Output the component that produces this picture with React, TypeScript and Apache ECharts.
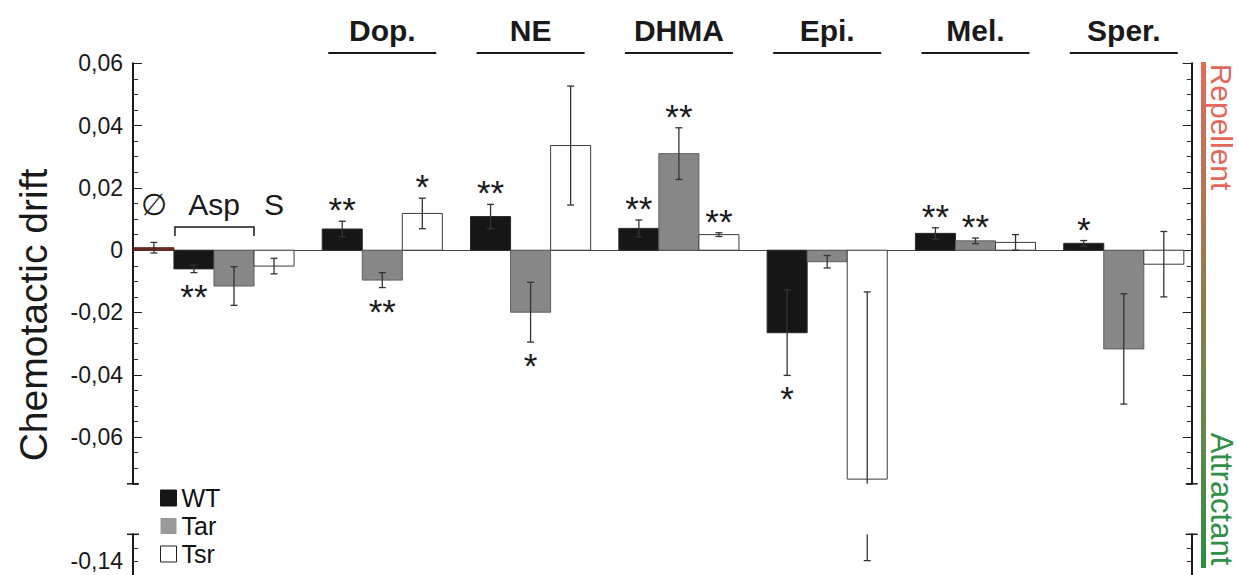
import React, { useEffect, useRef } from 'react';
import * as echarts from 'echarts';

// ---------------- data ----------------
const groups = ['Asp / S', 'Dop.', 'NE', 'DHMA', 'Epi.', 'Mel.', 'Sper.'];
const headers = ['', 'Dop.', 'NE', 'DHMA', 'Epi.', 'Mel.', 'Sper.'];
const group0Labels = ['∅', 'Asp', 'S'];
const legendNames = ['WT', 'Tar', 'Tsr'];

const controlValue = [0.0008];
const controlErr = [0.0017];

const wtValues = [-0.0060, 0.0068, 0.0108, 0.0070, -0.0265, 0.0054, 0.0022];
const wtErr = [0.0012, 0.0025, 0.0039, 0.0027, 0.0137, 0.0018, 0.0009];

const tarValues = [-0.0115, -0.0096, -0.0199, 0.0310, -0.0037, 0.0030, -0.0317];
const tarErr = [0.0062, 0.0024, 0.0096, 0.0083, 0.0020, 0.0009, 0.0177];

const tsrValues = [-0.0051, 0.0118, 0.0336, 0.0050, -0.0735, 0.0025, -0.0045];
const tsrErrHigh = [0.0025, 0.0049, 0.0191, 0.0006, 0.0601, 0.0025, 0.0105];
const tsrErrLow = [0.0025, 0.0049, 0.0191, 0.0006, 0.0662, 0.0025, 0.0105];

const wtSig = ['**', '**', '**', '**', '*', '**', '*'];
const tarSig = ['', '**', '*', '**', '', '**', ''];
const tsrSig = ['', '*', '', '**', '', '', ''];

const yMajorTicks = [0.06, 0.04, 0.02, 0, -0.02, -0.04, -0.06];
const yLowerLabels = [-0.14];

// ---------------- layout / style ----------------
const FONT = "'Liberation Sans', Arial, Helvetica, sans-serif";
const X_MIN = -0.681;
const X_MAX = 6.458;
const BAR_W = 0.27;
const Y_UP_MIN = -0.075;
const Y_UP_MAX = 0.06;
const Y_LOW_MIN = -0.145;
const Y_LOW_MAX = -0.13;
const STAR_GAP = 17.5;
const STAR_SHIFT = 6;
const ERR_COLOR = '#333333';
const CAP = 3.5;

const fmt = (v: number) => (Math.abs(v) < 1e-9 ? '0' : v.toFixed(2).replace('.', ','));

function buildOption() {
  const errGroup = (x: number, yA: number, yB: number, capA: boolean, capB: boolean) => {
    const children: any[] = [
      { type: 'line', shape: { x1: x, y1: yA, x2: x, y2: yB }, style: { stroke: ERR_COLOR, lineWidth: 1.3 } },
    ];
    if (capA) children.push({ type: 'line', shape: { x1: x - CAP, y1: yA, x2: x + CAP, y2: yA }, style: { stroke: ERR_COLOR, lineWidth: 1.3 } });
    if (capB) children.push({ type: 'line', shape: { x1: x - CAP, y1: yB, x2: x + CAP, y2: yB }, style: { stroke: ERR_COLOR, lineWidth: 1.3 } });
    return { type: 'group', children };
  };

  const makeBars = (name: string, values: number[], slot: number, fill: string, stroke: string) => ({
    type: 'custom',
    name,
    xAxisIndex: 0,
    yAxisIndex: 0,
    z: 2,
    silent: true,
    itemStyle: { color: fill, borderColor: stroke },
    data: values.map((v, i) => [i, v]),
    renderItem: (params: any, api: any) => {
      const xi = api.value(0) + slot * BAR_W;
      const v = api.value(1);
      const base = api.coord([xi, 0]);
      const top = api.coord([xi, v]);
      const w = api.size([BAR_W, 0])[0];
      return {
        type: 'rect',
        shape: { x: base[0] - w / 2, y: Math.min(base[1], top[1]), width: w, height: Math.abs(top[1] - base[1]) },
        style: { fill, stroke, lineWidth: 1 },
      };
    },
  });

  const makeErrUpper = (values: number[], lo: number[], hi: number[], slot: number) => ({
    type: 'custom',
    xAxisIndex: 0,
    yAxisIndex: 0,
    z: 4,
    silent: true,
    data: values.map((v, i) => [i, v - lo[i], v + hi[i]]),
    renderItem: (params: any, api: any) => {
      const xi = api.value(0) + slot * BAR_W;
      const a = api.value(1);
      const b = api.value(2);
      const pa = api.coord([xi, Math.max(a, Y_UP_MIN)]);
      const pb = api.coord([xi, Math.min(b, Y_UP_MAX)]);
      return errGroup(pa[0], pa[1], pb[1], a >= Y_UP_MIN, true);
    },
  });

  const makeErrLower = (values: number[], lo: number[], slot: number) => ({
    type: 'custom',
    xAxisIndex: 1,
    yAxisIndex: 4,
    z: 4,
    silent: true,
    data: values.map((v, i) => [i, v - lo[i]]),
    renderItem: (params: any, api: any) => {
      const a = api.value(1);
      if (a >= Y_LOW_MAX) return null;
      const xi = api.value(0) + slot * BAR_W;
      const pa = api.coord([xi, a]);
      const pb = api.coord([xi, Y_LOW_MAX]);
      return errGroup(pa[0], pa[1], pb[1], true, false);
    },
  });

  const makeStars = (values: number[], lo: number[], hi: number[], sig: string[], slot: number) => ({
    type: 'custom',
    xAxisIndex: 0,
    yAxisIndex: 0,
    z: 5,
    silent: true,
    data: values.map((v, i) => [i, v]),
    renderItem: (params: any, api: any) => {
      const i = params.dataIndex;
      const s = sig[i];
      if (!s) return null;
      const v = api.value(1);
      const xi = api.value(0) + slot * BAR_W;
      const end = v >= 0 ? v + hi[i] : v - lo[i];
      const p = api.coord([xi, end]);
      const y = v >= 0 ? p[1] - STAR_GAP : p[1] + STAR_GAP;
      return {
        type: 'text',
        x: p[0],
        y: y + STAR_SHIFT,
        style: { text: s, fill: '#1a1a1a', fontSize: 35, fontFamily: FONT, align: 'center', verticalAlign: 'middle' },
      };
    },
  });

  const headerSeries = {
    type: 'custom',
    xAxisIndex: 0,
    yAxisIndex: 0,
    z: 5,
    silent: true,
    data: headers.map((h, i) => [i, 0]),
    renderItem: (params: any, api: any) => {
      const h = headers[params.dataIndex];
      if (!h) return null;
      const p = api.coord([api.value(0), 0]);
      return {
        type: 'group',
        children: [
          { type: 'text', x: p[0], y: 30, style: { text: h, fill: '#1a1a1a', fontSize: 30, fontWeight: 'bold', fontFamily: FONT, align: 'center', verticalAlign: 'middle' } },
          { type: 'line', shape: { x1: p[0] - 54, y1: 53, x2: p[0] + 54, y2: 53 }, style: { stroke: '#1a1a1a', lineWidth: 2 } },
        ],
      };
    },
  };

  const group0Series = {
    type: 'custom',
    xAxisIndex: 0,
    yAxisIndex: 0,
    z: 5,
    silent: true,
    data: [[0, 0]],
    renderItem: (params: any, api: any) => {
      const x0 = api.value(0);
      const cCtrl = api.coord([x0 - 2 * BAR_W, 0])[0];
      const cWt = api.coord([x0 - BAR_W, 0])[0];
      const cTar = api.coord([x0, 0])[0];
      const cTsr = api.coord([x0 + BAR_W, 0])[0];
      const w = api.size([BAR_W, 0])[0];
      const left = cWt - w / 2 + 1;
      const right = cTar + w / 2;
      const txt = (t: string, x: number) => ({
        type: 'text', x, y: 204,
        style: { text: t, fill: '#1a1a1a', fontSize: 30, fontFamily: FONT, align: 'center', verticalAlign: 'middle' },
      });
      return {
        type: 'group',
        children: [
          txt(group0Labels[0], cCtrl),
          txt(group0Labels[1], (cWt + cTar) / 2),
          txt(group0Labels[2], cTsr),
          { type: 'polyline', shape: { points: [[left, 236], [left, 227], [right, 227], [right, 236]] }, style: { stroke: '#1a1a1a', lineWidth: 1.5, fill: 'none' } },
        ],
      };
    },
  };

  const makeCaps = (xIdx: number, yIdx: number, yv: number) => ({
    type: 'custom',
    xAxisIndex: xIdx,
    yAxisIndex: yIdx,
    z: 6,
    silent: true,
    data: [[X_MIN, yv], [X_MAX, yv]],
    renderItem: (params: any, api: any) => {
      const p = api.coord([api.value(0), api.value(1)]);
      return { type: 'line', shape: { x1: p[0] - 6, y1: p[1], x2: p[0] + 6, y2: p[1] }, style: { stroke: '#1a1a1a', lineWidth: 1.5 } };
    },
  });

  const axisLine = { show: true, onZero: false, lineStyle: { color: '#1a1a1a', width: 2 } };
  const noLine = { show: false, onZero: false };
  const minorTick = { inside: true, length: 5, lineStyle: { color: '#333', width: 1 } };

  const yAxes: any[] = [
    // upper grid, left
    {
      gridIndex: 0, type: 'value', position: 'left', min: Y_UP_MIN, max: Y_UP_MAX, interval: 0.005,
      axisLine, axisTick: minorTick, axisLabel: { show: false }, splitLine: { show: false },
    },
    {
      gridIndex: 0, type: 'value', position: 'left', min: Y_UP_MIN, max: Y_UP_MAX, interval: 0.005,
      axisLine: noLine,
      axisTick: { show: true, inside: true, length: 9, customValues: yMajorTicks, lineStyle: { color: '#222', width: 1 } },
      axisLabel: { show: true, customValues: yMajorTicks, formatter: fmt, fontSize: 23, fontFamily: FONT, color: '#1a1a1a', margin: 10 },
      splitLine: { show: false },
    },
    // upper grid, right
    {
      gridIndex: 0, type: 'value', position: 'right', min: Y_UP_MIN, max: Y_UP_MAX, interval: 0.005,
      axisLine, axisTick: minorTick, axisLabel: { show: false }, splitLine: { show: false },
    },
    {
      gridIndex: 0, type: 'value', position: 'right', min: Y_UP_MIN, max: Y_UP_MAX, interval: 0.005,
      axisLine: noLine,
      axisTick: { show: true, inside: true, length: 9, customValues: yMajorTicks, lineStyle: { color: '#222', width: 1 } },
      axisLabel: { show: false }, splitLine: { show: false },
    },
    // lower grid, left
    {
      gridIndex: 1, type: 'value', position: 'left', min: Y_LOW_MIN, max: Y_LOW_MAX, interval: 0.005,
      axisLine, axisTick: minorTick,
      axisLabel: { show: true, customValues: yLowerLabels, formatter: fmt, fontSize: 23, fontFamily: FONT, color: '#1a1a1a', margin: 10 },
      splitLine: { show: false },
    },
    // lower grid, right
    {
      gridIndex: 1, type: 'value', position: 'right', min: Y_LOW_MIN, max: Y_LOW_MAX, interval: 0.005,
      axisLine, axisTick: minorTick, axisLabel: { show: false }, splitLine: { show: false },
    },
  ];

  return {
    animation: false,
    backgroundColor: '#ffffff',
    grid: [
      { left: 133, right: 47.3, top: 63.3, bottom: 91.2 },
      { left: 133, right: 47.3, top: 534.3, bottom: -6 },
    ],
    xAxis: [
      {
        gridIndex: 0, type: 'value', min: X_MIN, max: X_MAX,
        axisLine: { show: true, onZero: true, lineStyle: { color: '#444', width: 1 } },
        axisTick: { show: false }, axisLabel: { show: false }, splitLine: { show: false },
      },
      {
        gridIndex: 1, type: 'value', min: X_MIN, max: X_MAX, show: false,
        axisLine: { onZero: false },
        splitLine: { show: false },
      },
    ],
    yAxis: yAxes,
    legend: {
      orient: 'vertical',
      left: 160,
      top: 485.5,
      padding: 0,
      itemWidth: 16,
      itemHeight: 16,
      itemGap: 3,
      selectedMode: false,
      textStyle: { fontSize: 25, color: '#111', fontFamily: FONT },
      data: [
        { name: legendNames[0], icon: 'rect', itemStyle: { color: '#161616', borderColor: '#161616', borderWidth: 1 } },
        { name: legendNames[1], icon: 'rect', itemStyle: { color: '#9a9a9a', borderColor: '#9a9a9a', borderWidth: 0 } },
        { name: legendNames[2], icon: 'rect', itemStyle: { color: '#ffffff', borderColor: '#222', borderWidth: 1 } },
      ],
    },
    graphic: [
      {
        type: 'text', x: 33, y: 315, rotation: Math.PI / 2,
        style: { text: 'Chemotactic drift', fill: '#1a1a1a', fontSize: 39, fontFamily: FONT, align: 'center', verticalAlign: 'middle' },
      },
      {
        type: 'rect', shape: { x: 1201, y: 62, width: 5, height: 506 },
        style: {
          fill: {
            type: 'linear', x: 0, y: 0, x2: 0, y2: 1,
            colorStops: [
              { offset: 0, color: '#e8685a' },
              { offset: 0.45, color: '#8f7c4c' },
              { offset: 0.75, color: '#5e8a4a' },
              { offset: 1, color: '#28903f' },
            ],
          },
        },
      },
      {
        type: 'text', x: 1221, y: 127, rotation: -Math.PI / 2,
        style: { text: 'Repellent', fill: '#e5675a', fontSize: 30, fontFamily: FONT, align: 'center', verticalAlign: 'middle' },
      },
      {
        type: 'text', x: 1221, y: 499, rotation: -Math.PI / 2,
        style: { text: 'Attractant', fill: '#2f8f45', fontSize: 31, fontFamily: FONT, align: 'center', verticalAlign: 'middle' },
      },
    ],
    series: [
      makeBars('∅', controlValue, -2, '#6e2a22', '#5a2a22'),
      makeBars(legendNames[0], wtValues, -1, '#161616', '#2a2a2a'),
      makeBars(legendNames[1], tarValues, 0, '#878787', '#5e5e5e'),
      makeBars(legendNames[2], tsrValues, 1, '#ffffff', '#3c3c3c'),
      makeErrUpper(controlValue, controlErr, controlErr, -2),
      makeErrUpper(wtValues, wtErr, wtErr, -1),
      makeErrUpper(tarValues, tarErr, tarErr, 0),
      makeErrUpper(tsrValues, tsrErrLow, tsrErrHigh, 1),
      makeErrLower(tsrValues, tsrErrLow, 1),
      makeStars(wtValues, wtErr, wtErr, wtSig, -1),
      makeStars(tarValues, tarErr, tarErr, tarSig, 0),
      makeStars(tsrValues, tsrErrLow, tsrErrHigh, tsrSig, 1),
      headerSeries,
      group0Series,
      makeCaps(0, 0, Y_UP_MIN),
      makeCaps(1, 4, Y_LOW_MAX),
    ],
  };
}

export default function App() {
  const ref = useRef<HTMLDivElement>(null);
  useEffect(() => {
    if (!ref.current) return;
    const chart = echarts.init(ref.current, null, { renderer: 'svg' });
    chart.setOption(buildOption() as any);
    return () => chart.dispose();
  }, []);
  return (
    <div
      ref={ref}
      data-groups={groups.join('|')}
      style={{ position: 'absolute', left: 0, top: 0, width: 1239, height: 575, background: '#ffffff' }}
    />
  );
}
